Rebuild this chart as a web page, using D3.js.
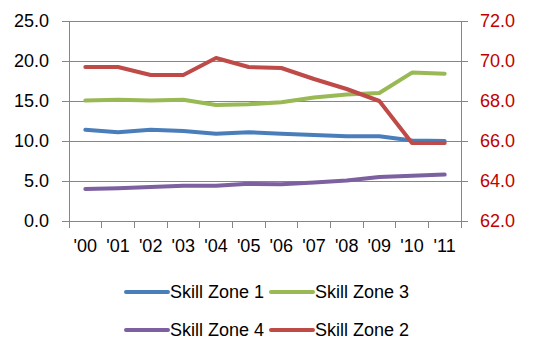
<!DOCTYPE html>
<html><head><meta charset="utf-8">
<script src="https://cdn.jsdelivr.net/npm/d3@7/dist/d3.min.js"></script>
<style>body{margin:0;background:#fff}svg{display:block}text{font-family:"Liberation Sans",Arial,sans-serif}</style>
</head><body><svg id="c" width="535" height="358"></svg>
<script>
const categories = ["'00","'01","'02","'03","'04","'05","'06","'07","'08","'09","'10","'11"];
const zone1 = [11.4,11.1,11.4,11.25,10.9,11.1,10.9,10.75,10.6,10.6,10.05,10.0];
const zone3 = [15.05,15.15,15.05,15.15,14.5,14.6,14.85,15.45,15.8,16.0,18.55,18.4];
const zone4 = [4.0,4.1,4.25,4.4,4.42,4.65,4.58,4.8,5.05,5.5,5.67,5.8];
const zone2 = [69.7,69.7,69.3,69.3,70.15,69.7,69.65,69.1,68.6,68.0,65.9,65.9];
const leftTicks = [0,5,10,15,20,25];
const rightTicks = [62,64,66,68,70,72];

const svg = d3.select("#c");
const L = 69, R = 461, T = 21, B = 221;
const x = d3.scaleBand().domain(categories).range([L, R]);
const yL = d3.scaleLinear().domain([0,25]).range([B, T]);
const yR = d3.scaleLinear().domain([62,72]).range([B, T]);
const axisCol = "#868686";

// gridlines
svg.append("g").selectAll("line").data(leftTicks.slice(1)).join("line")
  .attr("x1", L).attr("x2", R).attr("y1", d => yL(d)).attr("y2", d => yL(d))
  .attr("stroke", axisCol).attr("stroke-width", 1).attr("shape-rendering","crispEdges");

const fs = "18px";
const gl = svg.append("g").attr("transform", `translate(${L},0)`)
  .call(d3.axisLeft(yL).tickValues(leftTicks).tickFormat(d3.format(".1f")).tickSize(7).tickPadding(13));
const gr = svg.append("g").attr("transform", `translate(${R},0)`)
  .call(d3.axisRight(yR).tickValues(rightTicks).tickFormat(d3.format(".1f")).tickSize(7).tickPadding(12));
const gb = svg.append("g").attr("transform", `translate(0,${B})`)
  .call(d3.axisBottom(x).tickSize(0).tickPadding(18));
[gl, gr, gb].forEach(g => {
  g.select(".domain").attr("stroke", axisCol).attr("shape-rendering","crispEdges");
  g.selectAll(".tick line").attr("stroke", axisCol).attr("shape-rendering","crispEdges");
  g.selectAll("text").attr("font-size", fs).attr("font-family", '"Liberation Sans",Arial,sans-serif').attr("fill", "#000");
});
gr.selectAll("text").attr("fill", "#C00000");
gb.select(".domain").attr("d", `M${L},0H${R}`);
// category boundary ticks
svg.append("g").selectAll("line").data(d3.range(categories.length + 1)).join("line")
  .attr("x1", i => L + i * x.step()).attr("x2", i => L + i * x.step())
  .attr("y1", B).attr("y2", B + 7).attr("stroke", axisCol).attr("shape-rendering","crispEdges");

const cx = d => x(d) + x.bandwidth() / 2;
const series = [
  {name:"Skill Zone 1", vals: zone1, y: yL, color:"#4A7EBB"},
  {name:"Skill Zone 3", vals: zone3, y: yL, color:"#98B954"},
  {name:"Skill Zone 4", vals: zone4, y: yL, color:"#7D60A0"},
  {name:"Skill Zone 2", vals: zone2, y: yR, color:"#BE4B48"}
];
series.forEach(s => {
  const line = d3.line().x((v,i) => cx(categories[i])).y(v => s.y(v));
  svg.append("path").attr("d", line(s.vals)).attr("fill","none")
    .attr("stroke", s.color).attr("stroke-width", 4).attr("stroke-linejoin","round").attr("stroke-linecap","round");
});

// legend
const legPos = [[126,292],[271,292],[126,330],[271,330]];
series.forEach((s, i) => {
  const [lx, ly] = legPos[i];
  const g = svg.append("g").attr("transform", `translate(${lx},${ly})`);
  g.append("line").attr("x1", 0).attr("x2", 42).attr("y1", 0).attr("y2", 0)
    .attr("stroke", s.color).attr("stroke-width", 4).attr("stroke-linecap","round");
  g.append("text").attr("x", 44).attr("y", 6).attr("font-size", fs).text(s.name);
});
</script></body></html>
